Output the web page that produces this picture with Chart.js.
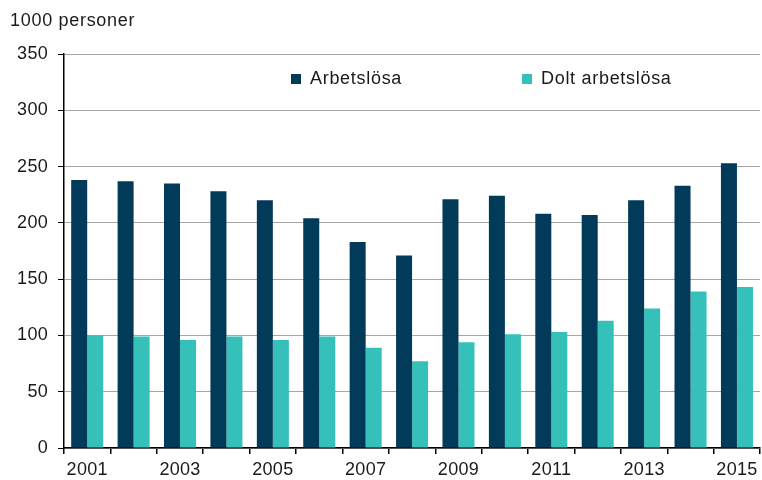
<!DOCTYPE html>
<html>
<head>
<meta charset="utf-8">
<script src="https://cdn.jsdelivr.net/npm/chart.js@4/dist/chart.umd.min.js"></script>
<style>
html,body{margin:0;padding:0;background:#fff;}
#wrap{width:762px;height:480px;position:relative;}
</style>
</head>
<body>
<div id="wrap"><canvas id="c" width="762" height="480"></canvas></div>
<script>
const years = ['2001','2002','2003','2004','2005','2006','2007','2008','2009','2010','2011','2012','2013','2014','2015'];
const arbetslosa = [238,237,235,228,220,204,183,171,221,224,208,207,220,233,253];
const doltArbetslosa = [100,99,96,99,96,99,89,77,94,101,103,113,124,139,143];
const seriesNames = ['Arbetslösa','Dolt arbetslösa'];
const yTicks = [0,50,100,150,200,250,300,350];
const unitLabel = '1000 personer';

const FONT = '"Liberation Sans", Arial, sans-serif';

const overlay = {
  id: 'overlay',
  beforeDraw(chart) {
    chart.ctx.letterSpacing = '0.3px';
  },
  afterDraw(chart) {
    const ctx = chart.ctx;
    ctx.save();
    ctx.letterSpacing = '0.7px';
    ctx.font = '18px ' + FONT;
    ctx.fillStyle = '#1a1a1a';
    ctx.textBaseline = 'middle';
    ctx.textAlign = 'left';
    ctx.fillText(unitLabel, 10, 21);
    const legendX = [291, 522];
    const ly = 79;
    chart.data.datasets.forEach((ds, i) => {
      ctx.fillStyle = ds.backgroundColor;
      ctx.fillRect(legendX[i], ly - 5, 10, 10);
      ctx.fillStyle = '#1a1a1a';
      ctx.fillText(ds.label, legendX[i] + 19, ly);
    });
    ctx.restore();
  }
};

new Chart(document.getElementById('c'), {
  type: 'bar',
  data: {
    labels: years,
    datasets: [
      {label: seriesNames[0], data: arbetslosa, backgroundColor: '#023b5a', categoryPercentage: 0.69, barPercentage: 1.0},
      {label: seriesNames[1], data: doltArbetslosa, backgroundColor: '#35c1b9', categoryPercentage: 0.69, barPercentage: 1.0}
    ]
  },
  options: {
    responsive: false,
    animation: false,
    devicePixelRatio: 1,
    layout: {padding: {top: 54, right: 1, left: 0, bottom: 0}},
    plugins: {legend: {display: false}, tooltip: {enabled: false}},
    scales: {
      x: {
        grid: {display: true, drawOnChartArea: false, offset: true, tickLength: 6, tickColor: '#000', lineWidth: 1.5},
        border: {color: '#000', width: 1.5},
        ticks: {
          color: '#1a1a1a', font: {family: FONT, size: 18}, padding: 5, maxRotation: 0, autoSkip: false,
          callback: function(v, i) { return i % 2 === 0 ? this.getLabelForValue(v) : ''; }
        },
        afterFit(axis) { axis.height = 32; }
      },
      y: {
        min: 0, max: 350,
        afterBuildTicks(axis) { axis.ticks = yTicks.map(v => ({value: v})); },
        grid: {color: '#a6a6a6', lineWidth: 1, tickLength: 6, tickColor: '#000', drawTicks: true},
        border: {color: '#000', width: 1.5},
        ticks: {color: '#1a1a1a', font: {family: FONT, size: 18}, padding: 10},
        afterFit(axis) { axis.width = 64; }
      }
    }
  },
  plugins: [overlay]
});
</script>
</body>
</html>
